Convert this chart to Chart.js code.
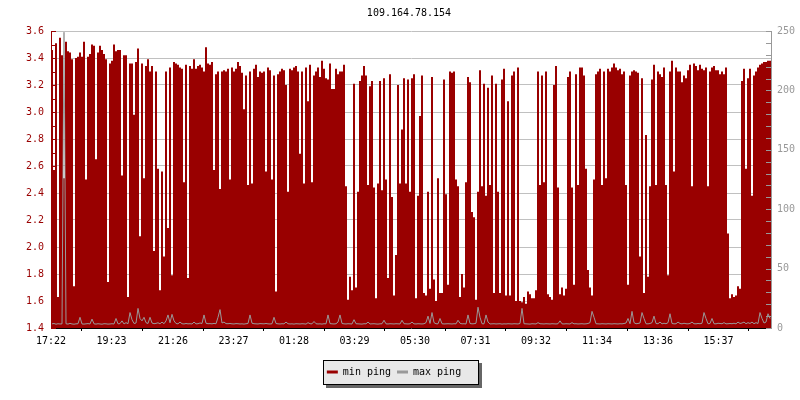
<!DOCTYPE html>
<html>
<head>
<meta charset="utf-8">
<style>
html,body{margin:0;padding:0;background:#ffffff;}
canvas{display:block;}
</style>
<script src="https://cdn.jsdelivr.net/npm/chart.js@4.4.0/dist/chart.umd.min.js"></script>
</head>
<body>
<canvas id="c" width="800" height="400"></canvas>
<script>
const chartTitle = '109.164.78.154';
const seriesNames = ['min ping', 'max ping'];
const startTime = '17:22';
const sampleStepMinutes = 4;
const xTickLabels = ['17:22','19:23','21:26','23:27','01:28','03:29','05:30','07:31','09:32','11:34','13:36','15:37'];
const leftTicks = [1.4,1.6,1.8,2.0,2.2,2.4,2.6,2.8,3.0,3.2,3.4,3.6];
const rightTicks = [0,50,100,150,200,250];

const minPing = [
3.46,2.57,3.51,1.63,3.55,3.42,2.51,3.52,3.45,3.44,
3.39,1.71,3.40,3.41,3.44,3.41,3.52,2.50,3.41,3.43,
3.50,3.49,2.65,3.44,3.49,3.46,3.43,3.39,1.74,3.36,
3.38,3.50,3.45,3.46,3.46,2.53,3.42,3.42,1.63,3.36,
3.36,2.98,3.37,3.47,2.08,3.36,2.51,3.34,3.39,3.30,
3.34,1.97,3.30,2.58,1.68,2.56,1.93,3.30,2.14,3.33,
1.79,3.37,3.36,3.35,3.33,3.32,2.48,3.35,1.77,3.34,
3.32,3.39,3.32,3.34,3.35,3.33,3.30,3.48,3.36,3.35,
3.37,2.57,3.28,3.30,2.43,3.30,3.31,3.30,3.32,2.50,
3.33,3.30,3.32,3.37,3.34,3.29,3.02,3.27,2.46,3.30,
2.47,3.32,3.35,3.26,3.30,3.29,3.30,2.56,3.33,3.31,
2.50,3.27,1.67,3.28,3.30,3.32,3.31,3.20,2.41,3.32,
3.31,3.33,3.34,3.30,2.69,3.30,2.47,3.33,3.08,3.35,
2.48,3.27,3.30,3.33,3.26,3.38,3.32,3.25,3.24,3.36,
3.17,3.17,3.32,3.28,3.30,3.30,3.35,2.45,1.61,1.78,
1.68,3.21,1.70,2.41,3.23,3.27,3.34,3.27,2.46,3.19,
3.23,2.44,1.62,2.47,3.23,2.42,3.25,2.50,1.77,3.28,
2.37,1.64,1.94,3.20,2.47,2.87,3.25,2.47,3.24,2.41,
3.25,3.28,1.62,2.38,2.97,3.27,1.66,1.64,2.41,1.69,
3.26,1.76,1.60,2.51,1.66,1.66,3.24,2.39,1.72,3.30,
3.29,3.30,2.50,2.45,1.63,1.80,1.70,2.48,3.26,3.22,
2.26,2.22,1.61,2.41,3.31,2.45,3.21,2.38,3.18,2.46,
3.27,1.66,3.21,2.41,1.66,3.24,3.32,1.64,3.08,1.64,
3.27,3.30,1.60,3.33,1.60,1.59,1.63,1.58,1.67,1.65,
1.62,1.62,1.68,3.30,2.46,3.27,2.48,3.30,1.65,1.63,
1.61,3.20,3.34,2.44,1.65,1.70,1.64,1.69,3.26,3.30,
2.44,1.72,3.28,2.46,3.33,3.33,3.27,2.58,1.83,1.70,
1.64,2.50,3.28,3.30,3.32,2.46,3.30,2.51,3.32,3.30,
3.33,3.36,3.33,3.31,3.32,3.28,3.30,2.46,1.72,3.27,
3.30,3.31,3.30,3.29,1.93,3.25,1.66,2.83,1.78,2.45,
3.24,3.35,2.46,3.30,3.28,3.26,3.33,2.46,1.79,3.30,
3.38,2.56,3.33,3.30,3.30,3.22,3.27,3.25,3.31,3.35,
2.45,3.36,3.34,3.31,3.35,3.32,3.31,3.33,2.45,3.30,
3.33,3.34,3.31,3.31,3.28,3.30,3.28,3.33,2.10,1.62,
1.65,1.63,1.64,1.71,1.69,3.23,3.32,2.58,3.25,3.32,
2.38,3.27,3.30,3.33,3.35,3.36,3.37,3.37,3.38,3.38
];

const maxPing = [
3.5,3.8,3.2,3.6,3.4,3.5,249,3.6,3.3,3.9,
3.4,3.2,3.5,3.6,9,3.4,3.3,3.5,3.7,3.4,
7.5,3.5,3.3,3.6,3.4,3.2,3.6,3.5,3.3,3.4,
3.6,3.4,8,3.5,3.7,6,3.4,4.5,3.6,13,
7,3.8,4.2,16.5,8,6,9,4.5,3.8,9,
4.2,3.6,3.9,4.4,3.5,5,3.6,6,11,4.4,
11.5,6,3.8,3.5,5,3.6,3.4,3.8,3.5,3.6,
3.4,5,3.5,3.6,4.2,3.8,11,4,3.6,3.7,
3.5,3.9,3.6,9,15.5,4.2,5,3.7,3.6,3.8,
3.5,3.4,3.7,3.6,3.4,3.5,3.3,3.6,3.8,11,
4,3.6,3.5,3.4,3.7,3.6,3.5,3.8,3.5,3.4,
3.6,9,3.8,3.5,3.4,3.6,3.5,5,3.6,3.4,
3.5,3.3,3.6,3.5,3.4,3.6,3.5,3.3,4.5,3.6,
3.5,5.5,3.6,3.4,3.5,3.3,3.6,3.5,11,3.7,
3.5,3.4,3.6,5,11,3.8,3.5,3.4,3.6,3.5,
3.4,7,3.6,3.5,3.4,3.3,3.6,3.5,5,3.4,
3.5,3.6,3.4,3.3,3.5,3.6,6.5,3.5,3.4,3.6,
3.5,3.4,3.6,3.5,3.4,6.5,3.6,3.5,3.4,3.6,
5,3.5,3.4,3.6,3.5,3.4,3.6,4.5,10,3.8,
13,4.5,3.6,3.5,8,3.6,3.4,3.5,3.6,3.5,
3.4,3.6,3.5,6.5,4,3.5,3.6,3.4,11,3.8,
3.5,3.6,4,17.5,9,3.6,3.5,11,5,3.4,
3.5,3.6,3.4,3.5,3.6,3.3,3.5,3.4,3.6,3.5,
3.4,3.6,3.5,3.4,3.8,16.5,3.6,3.5,3.4,3.3,
3.6,3.5,3.4,4.5,3.6,3.5,3.4,3.6,3.5,3.4,
3.6,3.5,3.4,3.6,6,3.5,3.4,3.6,3.5,3.4,
4.5,3.5,3.6,3.4,3.5,3.6,3.4,3.5,3.8,4.5,
14,9,3.6,3.5,3.4,3.6,3.5,3.4,3.6,3.5,
3.4,3.6,3.5,3.4,3.6,3.5,3.8,4.2,8,3.6,
14,4.5,3.6,3.8,4.2,13,8,3.6,3.5,3.8,
4.5,10,3.8,3.6,5,3.5,4,3.6,4.5,12,
3.8,3.5,3.6,5,3.8,3.5,4,3.6,3.5,3.8,
5,3.6,3.5,3.8,3.6,4,13,8,3.6,3.8,
8,3.6,3.5,4,3.8,3.6,4.5,3.5,3.6,3.8,
3.6,4,3.5,5,3.8,4.2,5,3.6,4.5,3.8,
5,3.6,4.5,3.8,13,8,4.2,5,12,8
];

const RED = '#990000';
const GRAY = '#999999';
const FONT_FAMILY = "'DejaVu Sans Mono', 'Liberation Mono', monospace";
const FONT = {family: FONT_FAMILY, size: 10};

function toMinutes(t) { const p = t.split(':').map(Number); return p[0] * 60 + p[1]; }
const startMin = toMinutes(startTime);
const xTickMinutes = xTickLabels.map(t => { let d = toMinutes(t) - startMin; if (d < 0) d += 1440; return d; });
const spanMinutes = minPing.length * sampleStepMinutes;
const xPositions = minPing.map((_, i) => (i + 0.5) * sampleStepMinutes);

const decorPlugin = {
  id: 'decor',
  afterLayout(chart) {
    const lg = chart.legend;
    if (lg) { lg.right -= 12; lg.width -= 12; }
  },
  beforeDraw(chart) {
    const lg = chart.legend;
    if (!lg || !lg.legendHitBoxes || !lg.legendHitBoxes.length) return;
    const hb = lg.legendHitBoxes;
    const last = hb[hb.length - 1];
    const l = Math.round(hb[0].left - 4);
    const r = Math.round(last.left + last.width + 17);
    const t = Math.round(hb[0].top - 7);
    const b = Math.round(hb[0].top + hb[0].height + 7);
    const ctx = chart.ctx;
    ctx.save();
    ctx.fillStyle = '#666666';
    ctx.fillRect(l + 3, t + 3, r - l + 1, b - t + 1);
    ctx.fillStyle = '#e8e8e8';
    ctx.fillRect(l, t, r - l, b - t);
    ctx.strokeStyle = '#000000';
    ctx.lineWidth = 1;
    ctx.strokeRect(l + 0.5, t + 0.5, r - l, b - t);
    ctx.restore();
  },
  afterDatasetsDraw(chart) {
    const ctx = chart.ctx;
    const ca = chart.chartArea;
    const y = chart.scales.y, y2 = chart.scales.y2;
    ctx.save();
    ctx.lineWidth = 1;
    ctx.strokeStyle = GRAY;
    ctx.beginPath();
    for (let v = 0; v <= 250; v += 10) {
      const py = Math.round(y2.getPixelForValue(v)) + 0.5;
      ctx.moveTo(ca.right - 5, py);
      ctx.lineTo(ca.right, py);
    }
    ctx.stroke();
    ctx.strokeStyle = RED;
    ctx.beginPath();
    for (let k = 0; k <= 22; k++) {
      const py = Math.round(y.getPixelForValue(1.4 + k * 0.1)) + 0.5;
      ctx.moveTo(ca.left, py);
      ctx.lineTo(ca.left + 5, py);
    }
    ctx.stroke();
    ctx.restore();
  },
  afterDraw(chart) {
    const ctx = chart.ctx;
    const ca = chart.chartArea;
    ctx.save();
    ctx.font = '10px ' + FONT_FAMILY;
    ctx.fillStyle = '#000000';
    ctx.textAlign = 'center';
    ctx.textBaseline = 'middle';
    ctx.fillText(chartTitle, (ca.left + ca.right) / 2 - 2, 13);
    ctx.restore();
  }
};

new Chart(document.getElementById('c'), {
  type: 'bar',
  data: {
    datasets: [
      {
        type: 'bar',
        label: seriesNames[0],
        data: xPositions.map((x, i) => ({x: x, y: minPing[i]})),
        backgroundColor: RED,
        borderWidth: 0,
        barPercentage: 1,
        categoryPercentage: 1,
        inflateAmount: 0,
        yAxisID: 'y',
        xAxisID: 'x',
        order: 1
      },
      {
        type: 'line',
        label: seriesNames[1],
        data: xPositions.map((x, i) => ({x: x, y: maxPing[i]})),
        borderColor: GRAY,
        backgroundColor: GRAY,
        borderWidth: 1,
        pointRadius: 0,
        tension: 0,
        fill: false,
        yAxisID: 'y2',
        xAxisID: 'x',
        order: 0
      }
    ]
  },
  options: {
    responsive: false,
    animation: false,
    devicePixelRatio: 1,
    layout: {padding: {top: 31, right: 0, bottom: 13, left: 0}},
    plugins: {
      title: {display: false},
      tooltip: {enabled: false},
      legend: {
        display: true,
        position: 'bottom',
        align: 'center',
        labels: {
          boxWidth: 11,
          boxHeight: 3,
          padding: 6,
          color: '#000000',
          font: FONT,
          generateLabels(chart) {
            return chart.data.datasets.map((ds, i) => ({
              text: ds.label,
              fillStyle: i === 0 ? RED : GRAY,
              strokeStyle: i === 0 ? RED : GRAY,
              lineWidth: 0,
              hidden: false,
              datasetIndex: i
            }));
          }
        }
      }
    },
    scales: {
      x: {
        type: 'linear',
        position: 'bottom',
        min: 0,
        max: spanMinutes,
        offset: false,
        afterBuildTicks(scale) { scale.ticks = xTickMinutes.map(v => ({value: v})); },
        afterFit(scale) { scale.height = 33; },
        grid: {display: true, drawOnChartArea: false, drawTicks: true, tickLength: 3, color: '#000000'},
        border: {display: true, color: '#000000'},
        ticks: {
          autoSkip: false, maxRotation: 0, minRotation: 0, padding: 4,
          color: '#000000', font: FONT,
          callback: (v, i) => xTickLabels[i]
        }
      },
      y: {
        type: 'linear',
        position: 'left',
        min: leftTicks[0],
        max: leftTicks[leftTicks.length - 1],
        afterBuildTicks(scale) { scale.ticks = leftTicks.map(v => ({value: v})); },
        afterFit(scale) { scale.width = 51; },
        grid: {
          drawTicks: false,
          color: (c) => (c.tick && Math.abs(c.tick.value - leftTicks[0]) < 1e-6) ? 'rgba(0,0,0,0)' : '#c0c0c0'
        },
        border: {display: true, color: RED},
        ticks: {padding: 7, color: RED, font: FONT, callback: (v) => Number(v).toFixed(1)}
      },
      y2: {
        type: 'linear',
        position: 'right',
        min: rightTicks[0],
        max: rightTicks[rightTicks.length - 1],
        afterBuildTicks(scale) { scale.ticks = rightTicks.map(v => ({value: v})); },
        afterFit(scale) { scale.width = 29; },
        grid: {drawOnChartArea: false, drawTicks: false},
        border: {display: true, color: GRAY},
        ticks: {padding: 6, color: GRAY, font: FONT, callback: (v) => String(v)}
      }
    }
  },
  plugins: [decorPlugin]
});
</script>
</body>
</html>
